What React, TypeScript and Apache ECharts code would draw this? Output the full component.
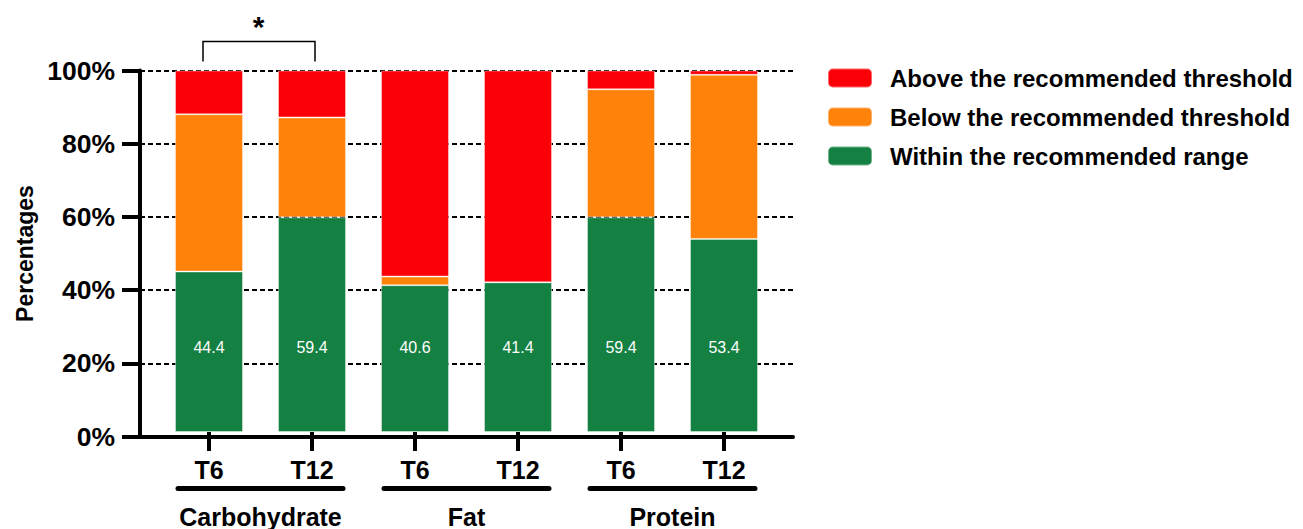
import React, { useEffect, useRef } from "react";
import * as echarts from "echarts";

const groups = ["Carbohydrate", "Fat", "Protein"];
const timepoints = ["T6", "T12"];
const categories = groups.flatMap((g) => timepoints.map((t) => `${g} ${t}`));
const seriesNames = [
  "Above the recommended threshold",
  "Below the recommended threshold",
  "Within the recommended range",
];
const withinValues = [44.4, 59.4, 40.6, 41.4, 59.4, 53.4];
const belowValues = [43.5, 27.6, 2.4, 0, 35.4, 45.4];
const aboveValues = [12.1, 13.0, 57.0, 58.6, 5.2, 1.2];
const yMin = 0;
const yMax = 100;
const yInterval = 20;
const significance = { from: 0, to: 1, label: "*" };

const FONT = "'Liberation Sans', Arial, Helvetica, sans-serif";
const RED = "#FC0007";
const ORANGE = "#FF820A";
const GREEN = "#148042";

export default function App() {
  const ref = useRef<HTMLDivElement>(null);
  useEffect(() => {
    if (!ref.current) return;
    const chart = echarts.init(ref.current, null, { renderer: "svg" });
    const boldText = { fontFamily: FONT, fontWeight: "bold" as const, color: "#000" };
    const option: any = {
      animation: false,
      backgroundColor: "#fff",
      grid: [
        { left: 157.5, width: 618, top: 70.5, height: 366 },
        { left: 140, width: 653, top: 70.5, height: 366 },
      ],
      legend: {
        orient: "vertical",
        left: 827,
        top: 66,
        padding: 0,
        itemWidth: 44,
        itemHeight: 19,
        itemGap: 15,
        data: seriesNames,
        textStyle: { ...boldText, fontSize: 24, lineHeight: 24, padding: [0, 0, 0, 13] },
      },
      xAxis: [
        {
          type: "category",
          gridIndex: 0,
          data: categories,
          axisLine: { show: false },
          axisTick: { show: true, alignWithLabel: true, length: 19, lineStyle: { width: 4, color: "#000" } },
          axisLabel: {
            ...boldText,
            fontSize: 25,
            interval: 0,
            margin: 25,
            formatter: (v: string) => v.split(" ")[1],
          },
          splitLine: { show: false },
        },
        {
          type: "value",
          gridIndex: 1,
          min: 0,
          max: 1,
          axisLine: { show: true, lineStyle: { width: 4, color: "#000" } },
          axisTick: { show: false },
          axisLabel: { show: false },
          splitLine: { show: false },
        },
        {
          type: "category",
          gridIndex: 0,
          data: groups,
          position: "bottom",
          axisLine: { show: false },
          axisTick: { show: false },
          axisLabel: { ...boldText, fontSize: 25, interval: 0, margin: 72 },
          splitLine: { show: false },
        },
      ],
      yAxis: [
        { type: "value", gridIndex: 0, min: yMin, max: yMax, show: false },
        {
          type: "value",
          gridIndex: 1,
          min: yMin,
          max: yMax,
          interval: yInterval,
          axisLine: { show: true, lineStyle: { width: 4, color: "#000" } },
          axisTick: { show: true, length: 18, lineStyle: { width: 4, color: "#000" } },
          axisLabel: { ...boldText, fontSize: 26.5, margin: 25, formatter: "{value}%" },
          splitLine: { show: true, lineStyle: { type: [5, 3], color: "#000", width: 1.8 } },
          name: "Percentages",
          nameLocation: "middle",
          nameRotate: 90,
          nameGap: 104,
          nameTextStyle: { ...boldText, fontSize: 23 },
        },
      ],
      series: [
        {
          name: seriesNames[2],
          type: "bar",
          stack: "total",
          xAxisIndex: 0,
          yAxisIndex: 0,
          barWidth: 68,
          data: withinValues,
          itemStyle: { color: GREEN, borderColor: "rgba(255,255,255,0.4)", borderWidth: 1 },
          label: {
            show: true,
            position: "insideBottom",
            distance: 77,
            color: "#fff",
            fontSize: 16,
            lineHeight: 16,
            fontFamily: "'Liberation Sans Narrow', 'Liberation Sans', Arial, sans-serif",
            formatter: (p: any) => p.value.toFixed(1),
          },
        },
        {
          name: seriesNames[1],
          type: "bar",
          stack: "total",
          xAxisIndex: 0,
          yAxisIndex: 0,
          barWidth: 68,
          data: belowValues,
          itemStyle: { color: ORANGE, borderColor: "rgba(255,255,255,0.4)", borderWidth: 1 },
        },
        {
          name: seriesNames[0],
          type: "bar",
          stack: "total",
          xAxisIndex: 0,
          yAxisIndex: 0,
          barWidth: 68,
          data: aboveValues,
          itemStyle: { color: RED, borderColor: "rgba(255,255,255,0.4)", borderWidth: 1 },
        },
      ],
    };
    chart.setOption(option);

    const px = (i: number) => chart.convertToPixel({ xAxisIndex: 0 }, i) as number;
    const y0 = chart.convertToPixel({ yAxisIndex: 0 }, yMin) as number;
    const y100 = chart.convertToPixel({ yAxisIndex: 0 }, yMax) as number;
    const graphics: any[] = [];
    groups.forEach((_, g) => {
      const a = px(g * 2);
      const b = px(g * 2 + 1);
      graphics.push({
        type: "line",
        shape: { x1: a - 31, y1: y0 + 56.5, x2: b + 31, y2: y0 + 56.5 },
        style: { stroke: "#000", lineWidth: 5, lineCap: "round" },
        silent: true,
      });
    });
    const sa = px(significance.from);
    const sb = px(significance.to);
    graphics.push({
      type: "polyline",
      shape: {
        points: [
          [sa - 6, y100 - 9],
          [sa - 6, y100 - 29],
          [sb + 3, y100 - 29],
          [sb + 3, y100 - 9],
        ],
      },
      style: { stroke: "#000", lineWidth: 1.5, fill: null },
      silent: true,
    });
    graphics.push({
      type: "text",
      x: (sa + sb) / 2 - 2,
      y: y100 - 44,
      style: {
        text: significance.label,
        font: `bold 30px ${FONT}`,
        fill: "#000",
        align: "center",
        verticalAlign: "middle",
      },
      silent: true,
    });
    chart.setOption({ graphic: graphics });

    return () => chart.dispose();
  }, []);
  return (
    <div
      ref={ref}
      style={{ position: "fixed", left: 0, top: 0, width: 1303, height: 529, background: "#fff" }}
    />
  );
}
